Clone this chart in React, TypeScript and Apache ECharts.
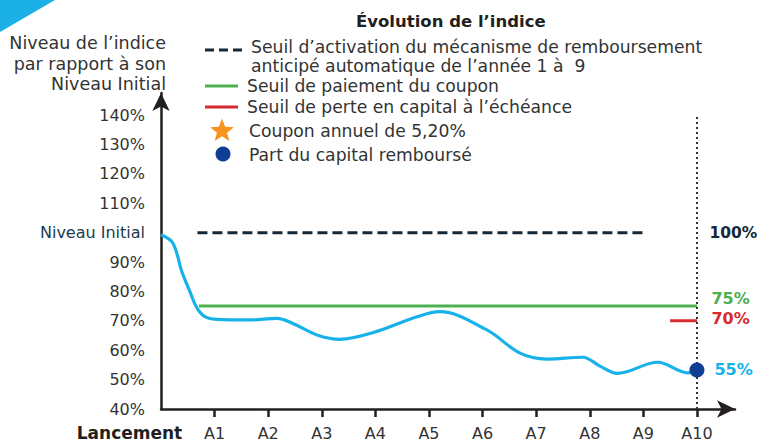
import React, { useEffect, useRef } from "react";
import * as echarts from "echarts";

// ---- data ----
const xTickValues = [1, 2, 3, 4, 5, 6, 7, 8, 9, 10];
const xLabelValues = [0, 1, 2, 3, 4, 5, 6, 7, 8, 9, 10];
const xLabelNames = ["Lancement", "A1", "A2", "A3", "A4", "A5", "A6", "A7", "A8", "A9", "A10"];
const yTickValues = [40, 50, 60, 70, 80, 90, 100, 110, 120, 130, 140];

// index path (x in years since launch, y in % of initial level)
const indexYears = [0, 0.22, 0.39, 0.54, 0.67, 0.82, 1.04, 1.66, 2.16, 2.46, 2.91, 3.34, 3.96, 4.78, 5.2, 6.08, 6.7, 7.2, 7.87, 8.19, 8.51, 9.27, 9.83, 10];
const indexLevels = [99.3, 96.5, 86.7, 79.9, 74.4, 71.4, 70.5, 70.3, 70.8, 69.1, 65.2, 63.7, 66.0, 71.4, 73.1, 66.9, 59.0, 57.0, 57.6, 54.6, 52.1, 55.9, 52.3, 53.3];

const autocallLevel = 100;
const autocallRange = [0.68, 9.06];
const couponLevel = 75;
const couponRange = [0.71, 10];
const lossLevel = 70;
const lossRange = [9.5, 10];
const finalYear = 10;
const finalLevel = 53.3;
const maturityLineRange = [40, 140];

const rightLabelTexts = ["100%", "75%", "70%", "55%"];
const rightLabelLevels = [100, 75, 70, 53.3];

const C_CURVE = "#17b2ea";
const C_DASH = "#14293a";
const C_GREEN = "#4caf50";
const C_RED = "#d52b30";
const C_DOT = "#0f3f94";
const C_STAR = "#f7931e";
const C_AXIS = "#231f20";
const FONT = "DejaVu Sans";

function starPoints(cx: number, cy: number, R: number, r: number) {
  const pts: number[][] = [];
  for (let i = 0; i < 10; i++) {
    const a = -Math.PI / 2 + (i * Math.PI) / 5;
    const rad = i % 2 === 0 ? R : r;
    pts.push([cx + rad * Math.cos(a), cy + rad * Math.sin(a)]);
  }
  return pts;
}

export default function App() {
  const ref = useRef<HTMLDivElement>(null);
  useEffect(() => {
    if (!ref.current) return;
    const chart = echarts.init(ref.current, undefined, { renderer: "svg" });
    const labelColors = [C_DASH, C_GREEN, C_RED, C_CURVE];
    const labelOffsets = [0, -8, -2, 0];
    const labelDistances = [12, 14, 14, 17];
    const labelSizes = [15.5, 16, 16, 16];
    const legendFont = 17.2;
    const xMax = 10.71;
    const option: any = {
      animation: false,
      backgroundColor: "#ffffff",
      textStyle: { fontFamily: FONT },
      title: {
        text: "Évolution de l’indice",
        left: 351,
        top: 8,
        textStyle: { fontFamily: FONT, fontSize: 16.5, fontWeight: "bold", color: C_AXIS },
      },
      grid: { left: 161, right: 22, top: 93, bottom: 39, containLabel: false },
      xAxis: [
        {
          type: "value",
          position: "bottom",
          min: 0,
          max: xMax,
          interval: 1,
          splitLine: { show: false },
          axisLine: {
            show: true,
            lineStyle: { color: C_AXIS, width: 2.5 },
            symbol: ["none", "arrow"],
            symbolSize: [13, 18],
          },
          axisTick: {
            show: true,
            customValues: xTickValues,
            length: 8,
            lineStyle: { color: C_AXIS, width: 2.5 },
          },
          axisLabel: {
            customValues: xTickValues,
            margin: 15,
            fontSize: 16,
            lineHeight: 18,
            color: "#333333",
            fontFamily: FONT,
            formatter: (v: number) => {
              const i = xLabelValues.indexOf(Math.round(v));
              return i >= 0 ? xLabelNames[i] : "";
            },
          },
        },
        {
          type: "value",
          position: "bottom",
          offset: 0,
          min: 0,
          max: xMax,
          interval: 1,
          splitLine: { show: false },
          axisLine: { show: false },
          axisTick: { show: false },
          axisLabel: {
            customValues: [xLabelValues[0]],
            showMinLabel: true,
            margin: 15,
            lineHeight: 18,
            formatter: () => "{l|" + xLabelNames[0] + "}",
            rich: {
              l: { fontSize: 17, fontWeight: "bold", color: C_AXIS, fontFamily: FONT, padding: [0, 63, 0, 0] },
            },
          },
        },
      ],
      yAxis: {
        type: "value",
        min: 40,
        max: 147.5,
        interval: 10,
        splitLine: { show: false },
        axisLine: {
          show: true,
          lineStyle: { color: C_AXIS, width: 2.5 },
          symbol: ["none", "arrow"],
          symbolSize: [13, 18],
        },
        axisTick: { show: false },
        axisLabel: {
          customValues: yTickValues,
          margin: 16,
          fontSize: 16,
          color: "#333333",
          fontFamily: FONT,
          formatter: (v: number) => (v === 100 ? "{ni|Niveau Initial}" : v + "%"),
          rich: { ni: { color: "#1d3b50", fontSize: 16, fontFamily: FONT } },
        },
      },
      series: [
        {
          type: "line",
          data: [[autocallRange[0], autocallLevel], [autocallRange[1], autocallLevel]],
          showSymbol: false,
          silent: true,
          lineStyle: { color: C_DASH, width: 3, type: [10, 5] },
          markLine: {
            silent: true,
            symbol: "none",
            label: { show: false },
            lineStyle: { color: "#333333", width: 2, type: [2, 3] },
            data: [[{ coord: [finalYear, maturityLineRange[0]] }, { coord: [finalYear, maturityLineRange[1]] }]],
          },
        },
        {
          type: "line",
          data: [[couponRange[0], couponLevel], [couponRange[1], couponLevel]],
          showSymbol: false,
          silent: true,
          lineStyle: { color: C_GREEN, width: 3 },
        },
        {
          type: "line",
          data: [[lossRange[0], lossLevel], [lossRange[1], lossLevel]],
          showSymbol: false,
          silent: true,
          lineStyle: { color: C_RED, width: 3 },
        },
        {
          type: "line",
          data: indexYears.map((x, i) => [x, indexLevels[i]]),
          showSymbol: false,
          smooth: 0.35,
          silent: true,
          lineStyle: { color: C_CURVE, width: 3.2 },
        },
        {
          type: "scatter",
          data: [[finalYear, finalLevel]],
          symbol: "circle",
          symbolSize: 15,
          itemStyle: { color: C_DOT, opacity: 1 },
          silent: true,
          z: 5,
        },
        {
          type: "scatter",
          symbolSize: 1,
          itemStyle: { color: "rgba(0,0,0,0)", opacity: 1 },
          silent: true,
          data: rightLabelTexts.map((t, i) => ({
            value: [finalYear, rightLabelLevels[i]],
            label: {
              show: true,
              position: "right",
              distance: labelDistances[i],
              offset: [0, labelOffsets[i]],
              formatter: t,
              color: labelColors[i],
              fontWeight: "bold",
              fontSize: labelSizes[i],
              fontFamily: FONT,
            },
          })),
        },
      ],
      graphic: [
        { type: "polygon", shape: { points: [[0, 0], [55, 0], [0, 32]] }, style: { fill: "#1bb0e6" }, silent: true },
        {
          type: "text",
          x: 166,
          y: 33,
          style: {
            text: "Niveau de l’indice\npar rapport à son\nNiveau Initial",
            align: "right",
            verticalAlign: "top",
            fontSize: 17.5,
            lineHeight: 20.5,
            fontFamily: FONT,
            fill: "#333333",
          },
        },
        { type: "line", shape: { x1: 205, y1: 50, x2: 243, y2: 50 }, style: { stroke: C_DASH, lineWidth: 3, lineDash: [9, 5] } },
        { type: "text", x: 251, y: 47, style: { text: "Seuil d’activation du mécanisme de remboursement", verticalAlign: "middle", fontSize: legendFont, fontFamily: FONT, fill: "#333333" } },
        { type: "text", x: 251, y: 66, style: { text: "anticipé automatique de l’année 1 à  9", verticalAlign: "middle", fontSize: legendFont, fontFamily: FONT, fill: "#333333" } },
        { type: "line", shape: { x1: 205, y1: 86, x2: 238, y2: 86 }, style: { stroke: C_GREEN, lineWidth: 3 } },
        { type: "text", x: 247, y: 86, style: { text: "Seuil de paiement du coupon", verticalAlign: "middle", fontSize: legendFont, fontFamily: FONT, fill: "#333333" } },
        { type: "line", shape: { x1: 205, y1: 107, x2: 238, y2: 107 }, style: { stroke: C_RED, lineWidth: 3 } },
        { type: "text", x: 247, y: 107, style: { text: "Seuil de perte en capital à l’échéance", verticalAlign: "middle", fontSize: legendFont, fontFamily: FONT, fill: "#333333" } },
        { type: "polygon", shape: { points: starPoints(222, 131, 12.5, 5.3) }, style: { fill: C_STAR } },
        { type: "text", x: 249, y: 131, style: { text: "Coupon annuel de 5,20%", verticalAlign: "middle", fontSize: legendFont, fontFamily: FONT, fill: "#333333" } },
        { type: "circle", shape: { cx: 223, cy: 154, r: 7.5 }, style: { fill: C_DOT } },
        { type: "text", x: 249, y: 155, style: { text: "Part du capital remboursé", verticalAlign: "middle", fontSize: legendFont, fontFamily: FONT, fill: "#333333" } },
      ],
    };
    chart.setOption(option);
    return () => chart.dispose();
  }, []);
  return (
    <div
      ref={ref}
      style={{ position: "fixed", left: 0, top: 0, width: 757, height: 448, background: "#fff" }}
    />
  );
}
